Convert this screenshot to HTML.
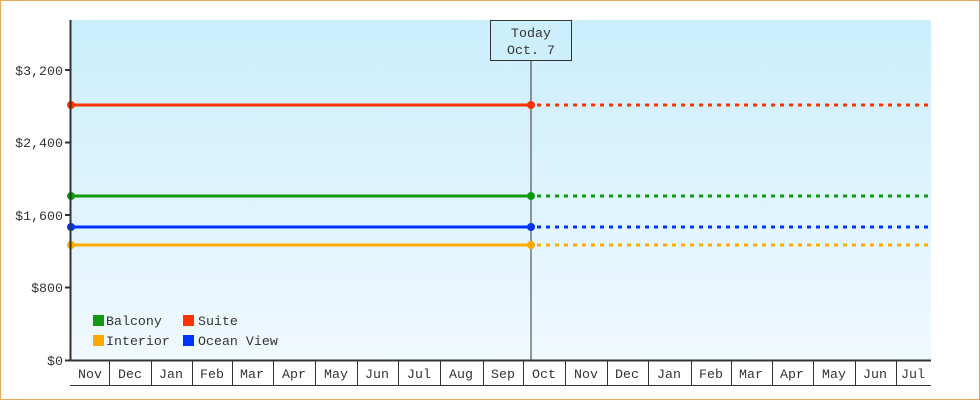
<!DOCTYPE html>
<html><head><meta charset="utf-8"><style>
html,body{margin:0;padding:0;background:#fff}
svg{display:block}
text{font-family:"Liberation Mono","DejaVu Sans Mono",monospace;font-size:13.3px;fill:#333}
</style></head><body>
<svg width="980" height="400" viewBox="0 0 980 400" xmlns="http://www.w3.org/2000/svg">
<defs><linearGradient id="g" x1="0" y1="0" x2="0" y2="1"><stop offset="0" stop-color="#cbeefc"/><stop offset="1" stop-color="#f0f9fe"/></linearGradient></defs>
<rect x="0.5" y="0.5" width="979" height="399" fill="#fff" stroke="#e8a860"/>
<rect x="71" y="20" width="860" height="340" fill="url(#g)"/>
<line x1="531" y1="60" x2="531" y2="360" stroke="#333" stroke-width="1"/>
<rect x="490.5" y="20.5" width="81" height="40" fill="#cdeffc" stroke="#333"/>
<text x="531" y="37" text-anchor="middle">Today</text>
<text x="531" y="54" text-anchor="middle">Oct. 7</text>
<g stroke-width="3" fill="none">
<line x1="71" y1="105" x2="531" y2="105" stroke="#ff3300"/>
<line x1="531" y1="105" x2="931" y2="105" stroke="#ff3300" stroke-dasharray="4 5" stroke-dashoffset="-6"/>
<line x1="71" y1="196" x2="531" y2="196" stroke="#119911"/>
<line x1="531" y1="196" x2="931" y2="196" stroke="#119911" stroke-dasharray="4 5" stroke-dashoffset="-6"/>
<line x1="71" y1="227" x2="531" y2="227" stroke="#0033ff"/>
<line x1="531" y1="227" x2="931" y2="227" stroke="#0033ff" stroke-dasharray="4 5" stroke-dashoffset="-6"/>
<line x1="71" y1="245" x2="531" y2="245" stroke="#ffaa00"/>
<line x1="531" y1="245" x2="931" y2="245" stroke="#ffaa00" stroke-dasharray="4 5" stroke-dashoffset="-6"/>
</g>
<g>
<circle cx="71" cy="105" r="4" fill="#ff3300"/><circle cx="531" cy="105" r="4" fill="#ff3300"/>
<circle cx="71" cy="196" r="4" fill="#119911"/><circle cx="531" cy="196" r="4" fill="#119911"/>
<circle cx="71" cy="227" r="4" fill="#0033ff"/><circle cx="531" cy="227" r="4" fill="#0033ff"/>
<circle cx="71" cy="245" r="4" fill="#ffaa00"/><circle cx="531" cy="245" r="4" fill="#ffaa00"/>
</g>
<line x1="70.5" y1="20" x2="70.5" y2="361" stroke="#333" stroke-width="2"/>
<line x1="65" y1="360.5" x2="931" y2="360.5" stroke="#333" stroke-width="2"/>
<g stroke="#333" stroke-width="2">
<line x1="65" y1="287.5" x2="70" y2="287.5"/><line x1="65" y1="215" x2="70" y2="215"/><line x1="65" y1="142.5" x2="70" y2="142.5"/><line x1="65" y1="70" x2="70" y2="70"/>
</g>
<g text-anchor="end">
<text x="63" y="365">$0</text><text x="63" y="292">$800</text><text x="63" y="220">$1,600</text><text x="63" y="147">$2,400</text><text x="63" y="75">$3,200</text>
</g>
<line x1="70" y1="385.5" x2="931" y2="385.5" stroke="#333"/>
<g stroke="#333">
<line x1="109.5" y1="361" x2="109.5" y2="385"/><line x1="151.5" y1="361" x2="151.5" y2="385"/><line x1="192.5" y1="361" x2="192.5" y2="385"/><line x1="232.5" y1="361" x2="232.5" y2="385"/><line x1="273.5" y1="361" x2="273.5" y2="385"/><line x1="315.5" y1="361" x2="315.5" y2="385"/><line x1="357.5" y1="361" x2="357.5" y2="385"/><line x1="398.5" y1="361" x2="398.5" y2="385"/><line x1="440.5" y1="361" x2="440.5" y2="385"/><line x1="483.5" y1="361" x2="483.5" y2="385"/><line x1="523.5" y1="361" x2="523.5" y2="385"/><line x1="565.5" y1="361" x2="565.5" y2="385"/><line x1="607.5" y1="361" x2="607.5" y2="385"/><line x1="648.5" y1="361" x2="648.5" y2="385"/><line x1="691.5" y1="361" x2="691.5" y2="385"/><line x1="731.5" y1="361" x2="731.5" y2="385"/><line x1="772.5" y1="361" x2="772.5" y2="385"/><line x1="813.5" y1="361" x2="813.5" y2="385"/><line x1="855.5" y1="361" x2="855.5" y2="385"/><line x1="896.5" y1="361" x2="896.5" y2="385"/>
</g>
<g text-anchor="middle">
<text x="90" y="378">Nov</text><text x="130" y="378">Dec</text><text x="171" y="378">Jan</text><text x="212" y="378">Feb</text><text x="252" y="378">Mar</text><text x="294" y="378">Apr</text><text x="336" y="378">May</text><text x="377" y="378">Jun</text><text x="419" y="378">Jul</text><text x="461" y="378">Aug</text><text x="503" y="378">Sep</text><text x="544" y="378">Oct</text><text x="586" y="378">Nov</text><text x="627" y="378">Dec</text><text x="669" y="378">Jan</text><text x="711" y="378">Feb</text><text x="751" y="378">Mar</text><text x="792" y="378">Apr</text><text x="834" y="378">May</text><text x="875" y="378">Jun</text><text x="913" y="378">Jul</text>
</g>
<rect x="93" y="315" width="11" height="11" fill="#119911"/><text x="106" y="325">Balcony</text>
<rect x="183" y="315" width="11" height="11" fill="#ff3300"/><text x="198" y="325">Suite</text>
<rect x="93" y="335" width="11" height="11" fill="#ffaa00"/><text x="106" y="345">Interior</text>
<rect x="183" y="335" width="11" height="11" fill="#0033ff"/><text x="198" y="345">Ocean View</text>
</svg>
</body></html>
